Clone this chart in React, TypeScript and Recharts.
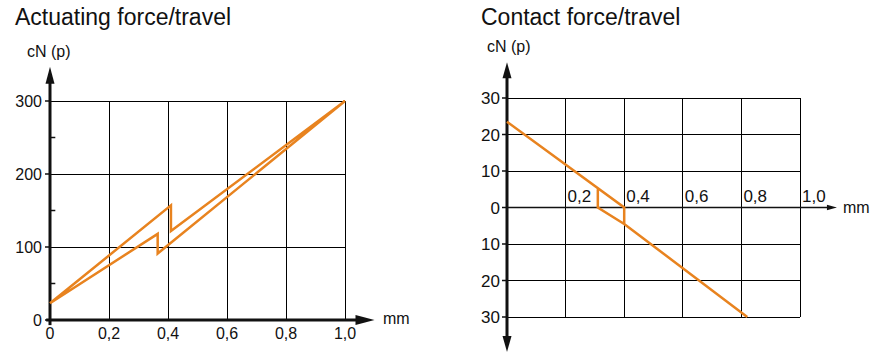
import { LineChart, Line, XAxis, YAxis, CartesianGrid, ReferenceLine, ReferenceDot } from 'recharts';

// Actuating force/travel (hysteresis loop, in drawing order)
const ACT_TRAVEL = [0, 0.41, 0.41, 1.0, 0.365, 0.365, 0];
const ACT_FORCE = [23, 157, 122, 300, 91, 118, 23];
const ACT_X_TICKS = [0, 0.2, 0.4, 0.6, 0.8, 1.0];
const ACT_Y_TICKS = [0, 100, 200, 300];
const ACT_MINOR_TICKS = [50, 150, 250];

// Contact force/travel
const CONTACT_TRAVEL = [0, 0.4, 0.4, 0.82, 0.4, 0.31, 0.31];
const CONTACT_FORCE = [23.5, 0, -4.5, -30, -4.5, 0, 5];
const CONTACT_X_TICKS = [0, 0.2, 0.4, 0.6, 0.8, 1.0];
const CONTACT_Y_TICKS = [-30, -20, -10, 0, 10, 20, 30];

const ORANGE = '#e8831f';
const INK = '#111';
const FONT = '"Liberation Sans", Arial, sans-serif';

const actData = ACT_TRAVEL.map((x, i) => ({ x, y: ACT_FORCE[i] }));
const contactData = CONTACT_TRAVEL.map((x, i) => ({ x, y: CONTACT_FORCE[i] }));

const fmtMm = (v: number) => (v === 0 ? '0' : v.toFixed(1).replace('.', ','));

// axis line with arrow head(s), drawn from reference line end points
const arrowShape = (width: number, head: number, half: number, both = false) => (p: any) => {
  const { x1, y1, x2, y2 } = p;
  const len = Math.hypot(x2 - x1, y2 - y1) || 1;
  const ux = (x2 - x1) / len;
  const uy = (y2 - y1) / len;
  const tri = (tx: number, ty: number, dx: number, dy: number) => {
    const bx = tx - dx * head;
    const by = ty - dy * head;
    return `${tx},${ty} ${bx - dy * half},${by + dx * half} ${bx + dy * half},${by - dx * half}`;
  };
  const sx = both ? x1 + ux * (head - 2) : x1;
  const sy = both ? y1 + uy * (head - 2) : y1;
  return (
    <g>
      <line x1={sx} y1={sy} x2={x2 - ux * (head - 2)} y2={y2 - uy * (head - 2)} stroke={INK} strokeWidth={width} />
      <polygon points={tri(x2, y2, ux, uy)} fill={INK} />
      {both && <polygon points={tri(x1, y1, -ux, -uy)} fill={INK} />}
    </g>
  );
};

const ActuatingChart = () => (
  <LineChart width={440} height={359} data={actData} margin={{ top: 101, right: 95, bottom: 0, left: 0 }}>
    <CartesianGrid stroke="#000" strokeWidth={1} shapeRendering="crispEdges" />
    <XAxis
      dataKey="x"
      type="number"
      domain={[0, 1]}
      ticks={ACT_X_TICKS}
      tickFormatter={fmtMm}
      height={39}
      axisLine={false}
      tickLine={false}
      tickSize={4}
      tickMargin={4}
      tick={{ fontSize: 16, fill: INK }}
    />
    <YAxis
      type="number"
      domain={[0, 300]}
      ticks={ACT_Y_TICKS}
      width={50}
      axisLine={false}
      tickLine={{ stroke: INK, strokeWidth: 1.5 }}
      tickSize={5}
      tickMargin={3}
      tick={{ fontSize: 16, fill: INK }}
    />
    {ACT_MINOR_TICKS.map((v) => (
      <ReferenceLine
        key={v}
        segment={[{ x: 0, y: v }, { x: 0.018, y: v }]}
        stroke={INK}
        strokeWidth={1.5}
        ifOverflow="visible"
      />
    ))}
    <ReferenceLine
      segment={[{ x: -0.013, y: 0 }, { x: 1.1, y: 0 }]}
      ifOverflow="visible"
      shape={arrowShape(3, 19, 5)}
    />
    <ReferenceLine
      segment={[{ x: 0, y: -7 }, { x: 0, y: 347 }]}
      ifOverflow="visible"
      shape={arrowShape(3, 17, 4.5)}
    />
    <Line
      dataKey="y"
      type="linear"
      stroke={ORANGE}
      strokeWidth={2.5}
      dot={false}
      isAnimationActive={false}
    />
  </LineChart>
);

const ContactChart = () => (
  <LineChart width={443} height={359} data={contactData} margin={{ top: 98, right: 83, bottom: 0, left: 0 }}>
    <CartesianGrid stroke="#000" strokeWidth={1} shapeRendering="crispEdges" />
    <XAxis
      dataKey="x"
      type="number"
      domain={[0, 1]}
      ticks={CONTACT_X_TICKS}
      tickFormatter={() => ''}
      height={42}
      axisLine={false}
      tickLine={false}
    />
    <YAxis
      type="number"
      domain={[-30, 30]}
      ticks={CONTACT_Y_TICKS}
      tickFormatter={(v: number) => String(Math.abs(v))}
      width={67}
      axisLine={false}
      tickLine={{ stroke: INK, strokeWidth: 1.5 }}
      tickSize={5}
      tickMargin={2}
      tick={{ fontSize: 17, fill: INK }}
    />
    {CONTACT_X_TICKS.filter((v) => v > 0).map((v) => (
      <ReferenceDot
        key={v}
        x={v}
        y={0}
        r={0}
        ifOverflow="visible"
        shape={(p: any) => (
          <text x={p.cx + 2} y={p.cy - 6} fontSize={17} fill={INK}>
            {fmtMm(v)}
          </text>
        )}
      />
    ))}
    <ReferenceLine
      segment={[{ x: 0, y: 0 }, { x: 1.126, y: 0 }]}
      ifOverflow="visible"
      shape={arrowShape(1.3, 10, 2.8)}
    />
    <ReferenceLine
      segment={[{ x: 0, y: -39.6 }, { x: 0, y: 39.8 }]}
      ifOverflow="visible"
      shape={arrowShape(3, 16, 4.5, true)}
    />
    <Line
      dataKey="y"
      type="linear"
      stroke={ORANGE}
      strokeWidth={2.5}
      dot={false}
      isAnimationActive={false}
    />
  </LineChart>
);

export default function App() {
  return (
    <div style={{ position: 'absolute', left: 0, top: 0, width: 883, height: 359, background: '#fff', fontFamily: FONT }}>
      <div style={{ position: 'absolute', left: 0, top: 0 }}>
        <ActuatingChart />
      </div>
      <div style={{ position: 'absolute', left: 440, top: 0 }}>
        <ContactChart />
      </div>
      <svg width={883} height={359} style={{ position: 'absolute', left: 0, top: 0, pointerEvents: 'none' }}>
        <g fill={INK} fontFamily={FONT}>
          <text x={15} y={25} fontSize={23}>Actuating force/travel</text>
          <text x={27} y={57} fontSize={16}>cN (p)</text>
          <text x={383} y={324} fontSize={16}>mm</text>
          <text x={481} y={25} fontSize={23}>Contact force/travel</text>
          <text x={487} y={52} fontSize={16}>cN (p)</text>
          <text x={843} y={213} fontSize={16}>mm</text>
        </g>
      </svg>
    </div>
  );
}
